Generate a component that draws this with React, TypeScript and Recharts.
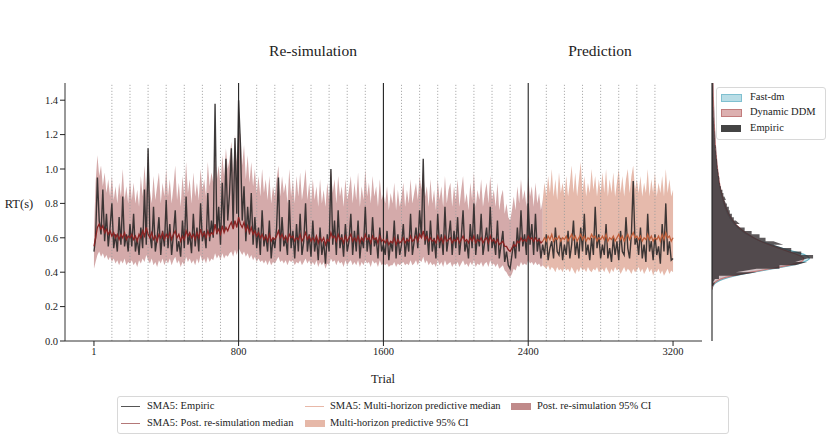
import React from "react";
import { ComposedChart, Area, Line, XAxis, YAxis, ReferenceLine } from "recharts";

const FONT = '"Liberation Serif", "DejaVu Serif", serif';

// =========================
// DATOS: ensayos cada 10 (el primero es el ensayo 1)
// =========================
const TRIAL_STEP = 10;
const PRED_START = 2480;

// SMA5 empírico, ensayos 1, 10, 20 ... 3200
const empiric = [
  0.52,
  0.6, 0.95, 0.7, 0.62, 0.88, 0.58, 0.74, 0.55, 0.66, 0.8, 0.54, 0.62, 0.52, 0.72, 0.56, 0.84, 0.55, 0.62, 0.52, 0.68,
  0.55, 0.74, 0.52, 0.6, 0.5, 0.66, 0.54, 0.88, 0.56, 1.12, 0.62, 0.54, 0.78, 0.52, 0.6, 0.72, 0.5, 0.64, 0.55, 0.82,
  0.54, 0.68, 0.5, 0.62, 0.76, 0.52, 0.58, 0.49, 0.7, 0.54, 0.84, 0.56, 0.62, 0.51, 0.74, 0.55, 0.66, 0.52, 0.8, 0.58,
  0.64, 0.54, 0.86, 0.58, 0.7, 0.6, 1.38, 0.62, 0.78, 0.56, 0.92, 0.64, 1.06, 0.7, 0.86, 1.12, 0.66, 1.18, 0.74, 1.4,
  1.15, 0.7, 0.9, 0.58, 0.78, 0.62, 0.86, 0.56, 0.72, 0.54, 0.66, 0.5, 0.76, 0.55, 0.62, 0.52, 0.7, 0.48, 0.6, 0.54,
  0.66, 0.95, 0.52, 0.72, 0.55, 0.6, 0.5, 0.82, 0.54, 0.64, 0.48, 0.68, 0.52, 0.74, 0.5, 0.58, 0.8, 0.52, 0.62, 0.49,
  0.7, 0.52, 0.6, 0.47, 0.66, 0.5, 0.58, 0.45, 0.62, 0.52, 1.0, 0.56, 0.7, 0.5, 0.76, 0.54, 0.62, 0.49, 0.68, 0.52,
  0.58, 0.74, 0.5, 0.64, 0.52, 0.7, 0.48, 0.6, 0.54, 0.78, 0.52, 0.62, 0.5, 0.72, 0.55, 0.6, 0.48, 0.66, 0.52, 0.56,
  0.5, 0.64, 0.47, 0.58, 0.52, 0.7, 0.48, 0.62, 0.5, 0.56, 0.68, 0.49, 0.6, 0.52, 0.74, 0.5, 0.58, 0.66, 0.54, 0.76,
  0.6, 1.06, 0.56, 0.64, 0.5, 0.7, 0.52, 0.6, 0.48, 0.74, 0.54, 0.62, 0.5, 0.78, 0.52, 0.6, 0.7, 0.5, 0.64, 0.54,
  0.72, 0.5, 0.6, 0.76, 0.52, 0.58, 0.48, 0.68, 0.54, 0.8, 0.5, 0.62, 0.55, 0.74, 0.5, 0.58, 0.66, 0.52, 0.78, 0.54,
  0.6, 0.5, 0.7, 0.48, 0.56, 0.64, 0.46, 0.52, 0.44, 0.42, 0.5, 0.58, 0.48, 0.66, 0.52, 0.76, 0.55, 0.62, 0.5, 0.8,
  0.56, 0.68, 0.5, 0.74, 0.52, 0.6, 0.48, 0.56, 0.5, 0.62, 0.47, 0.54, 0.58, 0.48, 0.66, 0.52, 0.5, 0.6, 0.47, 0.56,
  0.5, 0.64, 0.48, 0.56, 0.7, 0.5, 0.58, 0.48, 0.66, 0.52, 0.74, 0.5, 0.56, 0.47, 0.6, 0.5, 0.78, 0.54, 0.62, 0.48,
  0.56, 0.5, 0.68, 0.48, 0.54, 0.46, 0.6, 0.5, 0.58, 0.47, 0.64, 0.52, 0.5, 0.72, 0.54, 0.48, 0.62, 0.93, 0.56, 0.6,
  0.5, 0.66, 0.48, 0.56, 0.46, 0.74, 0.52, 0.58, 0.47, 0.62, 0.5, 0.55, 0.45, 0.68, 0.52, 0.8, 0.5, 0.58, 0.47, 0.48,
];

// re-simulación posterior, ensayos 1 ... 2480
const simMedian = [
  0.55,
  0.6, 0.66, 0.68, 0.65, 0.67, 0.63, 0.65, 0.62, 0.64, 0.61, 0.63, 0.6, 0.62, 0.59, 0.62, 0.6, 0.63, 0.59, 0.61, 0.6,
  0.62, 0.59, 0.61, 0.58, 0.62, 0.6, 0.64, 0.61, 0.66, 0.62, 0.6, 0.63, 0.59, 0.61, 0.58, 0.62, 0.6, 0.63, 0.59, 0.62,
  0.6, 0.63, 0.59, 0.62, 0.64, 0.6, 0.62, 0.58, 0.61, 0.59, 0.64, 0.61, 0.63, 0.6, 0.62, 0.59, 0.63, 0.6, 0.65, 0.61,
  0.63, 0.6, 0.64, 0.61, 0.63, 0.62, 0.68, 0.63, 0.65, 0.62, 0.67, 0.63, 0.66, 0.64, 0.67, 0.69, 0.65, 0.7, 0.66, 0.72,
  0.68, 0.66, 0.69, 0.64, 0.67, 0.63, 0.66, 0.62, 0.64, 0.61, 0.63, 0.6, 0.62, 0.59, 0.61, 0.58, 0.62, 0.58, 0.6, 0.59,
  0.61, 0.64, 0.6, 0.62, 0.59, 0.61, 0.58, 0.62, 0.6, 0.61, 0.58, 0.6, 0.59, 0.62, 0.58, 0.6, 0.63, 0.59, 0.61, 0.58,
  0.6, 0.58, 0.61, 0.57, 0.6, 0.58, 0.6, 0.56, 0.59, 0.58, 0.63, 0.6, 0.61, 0.58, 0.62, 0.59, 0.6, 0.57, 0.61, 0.58,
  0.6, 0.62, 0.58, 0.6, 0.58, 0.61, 0.57, 0.6, 0.58, 0.62, 0.59, 0.6, 0.57, 0.61, 0.59, 0.6, 0.57, 0.61, 0.58, 0.59,
  0.57, 0.59, 0.56, 0.58, 0.57, 0.6, 0.56, 0.59, 0.57, 0.58, 0.6, 0.57, 0.59, 0.58, 0.61, 0.58, 0.59, 0.61, 0.58, 0.62,
  0.6, 0.64, 0.59, 0.61, 0.58, 0.6, 0.58, 0.59, 0.57, 0.61, 0.58, 0.6, 0.57, 0.61, 0.58, 0.59, 0.6, 0.57, 0.59, 0.58,
  0.6, 0.57, 0.59, 0.61, 0.58, 0.59, 0.57, 0.6, 0.58, 0.61, 0.57, 0.59, 0.58, 0.6, 0.57, 0.59, 0.6, 0.57, 0.61, 0.58,
  0.59, 0.57, 0.59, 0.56, 0.57, 0.58, 0.55, 0.55, 0.53, 0.52, 0.54, 0.56, 0.55, 0.58, 0.57, 0.6, 0.58, 0.59, 0.58, 0.61,
  0.59, 0.6, 0.58, 0.6, 0.58, 0.59, 0.57, 0.58,
];

const simLow = [
  0.42,
  0.46, 0.5, 0.52, 0.49, 0.51, 0.48, 0.5, 0.47, 0.49, 0.46, 0.48, 0.45, 0.47, 0.44, 0.47, 0.45, 0.48, 0.44, 0.46, 0.45,
  0.47, 0.44, 0.46, 0.43, 0.47, 0.45, 0.48, 0.46, 0.5, 0.47, 0.45, 0.48, 0.44, 0.46, 0.43, 0.47, 0.45, 0.48, 0.44, 0.47,
  0.45, 0.48, 0.44, 0.47, 0.49, 0.45, 0.47, 0.43, 0.46, 0.44, 0.49, 0.46, 0.48, 0.45, 0.47, 0.44, 0.48, 0.45, 0.5, 0.46,
  0.48, 0.45, 0.49, 0.46, 0.48, 0.47, 0.51, 0.48, 0.5, 0.47, 0.51, 0.48, 0.5, 0.49, 0.51, 0.52, 0.49, 0.53, 0.5, 0.54,
  0.52, 0.5, 0.52, 0.49, 0.51, 0.48, 0.5, 0.47, 0.49, 0.46, 0.48, 0.46, 0.47, 0.45, 0.47, 0.44, 0.47, 0.44, 0.46, 0.45,
  0.47, 0.49, 0.46, 0.47, 0.45, 0.47, 0.44, 0.47, 0.46, 0.47, 0.44, 0.46, 0.45, 0.47, 0.44, 0.46, 0.48, 0.45, 0.47, 0.44,
  0.46, 0.44, 0.47, 0.43, 0.46, 0.44, 0.46, 0.42, 0.45, 0.44, 0.48, 0.46, 0.47, 0.44, 0.47, 0.45, 0.46, 0.43, 0.47, 0.44,
  0.46, 0.47, 0.44, 0.46, 0.44, 0.47, 0.43, 0.46, 0.44, 0.47, 0.45, 0.46, 0.43, 0.47, 0.45, 0.46, 0.43, 0.47, 0.44, 0.45,
  0.44, 0.45, 0.43, 0.44, 0.44, 0.46, 0.43, 0.45, 0.44, 0.45, 0.46, 0.44, 0.45, 0.44, 0.47, 0.44, 0.45, 0.47, 0.44, 0.47,
  0.46, 0.49, 0.45, 0.47, 0.44, 0.46, 0.44, 0.45, 0.43, 0.47, 0.44, 0.46, 0.43, 0.47, 0.44, 0.45, 0.46, 0.43, 0.45, 0.44,
  0.46, 0.43, 0.45, 0.47, 0.44, 0.45, 0.43, 0.46, 0.44, 0.47, 0.43, 0.45, 0.44, 0.46, 0.43, 0.45, 0.46, 0.43, 0.47, 0.44,
  0.45, 0.43, 0.45, 0.42, 0.43, 0.44, 0.41, 0.4, 0.38, 0.37, 0.39, 0.42, 0.41, 0.44, 0.43, 0.46, 0.44, 0.45, 0.44, 0.47,
  0.45, 0.46, 0.44, 0.46, 0.44, 0.45, 0.43, 0.44,
];

const simHigh = [
  0.62,
  0.92, 1.08, 0.96, 1.02, 0.9, 0.98, 0.86, 0.94, 0.84, 0.96, 0.82, 0.9, 0.8, 0.92, 0.84, 1.0, 0.82, 0.9, 0.8, 0.94,
  0.82, 0.92, 0.8, 0.88, 0.78, 0.96, 0.84, 1.02, 0.86, 1.1, 0.88, 0.8, 0.96, 0.82, 0.9, 0.98, 0.8, 0.92, 0.84, 1.0,
  0.84, 0.94, 0.8, 0.9, 1.02, 0.82, 0.92, 0.78, 0.96, 0.84, 1.04, 0.86, 0.94, 0.8, 0.98, 0.84, 0.92, 0.82, 1.0, 0.88,
  0.94, 0.84, 1.04, 0.9, 0.98, 0.92, 1.1, 0.94, 1.02, 0.9, 1.08, 0.96, 1.12, 1.0, 1.06, 1.16, 0.98, 1.2, 1.04, 1.24,
  1.2, 1.02, 1.14, 0.94, 1.08, 0.92, 1.04, 0.9, 1.0, 0.86, 0.96, 0.84, 1.0, 0.86, 0.94, 0.82, 0.96, 0.8, 0.9, 0.84,
  0.94, 1.02, 0.84, 0.96, 0.86, 0.92, 0.8, 1.0, 0.84, 0.94, 0.8, 0.96, 0.84, 0.98, 0.82, 0.9, 1.0, 0.82, 0.92, 0.8,
  0.94, 0.82, 0.9, 0.78, 0.94, 0.8, 0.88, 0.78, 0.92, 0.82, 1.0, 0.86, 0.94, 0.8, 0.96, 0.84, 0.9, 0.78, 0.94, 0.82,
  0.88, 0.96, 0.8, 0.92, 0.82, 0.98, 0.78, 0.9, 0.82, 1.0, 0.84, 0.92, 0.8, 0.96, 0.84, 0.9, 0.78, 0.94, 0.82, 0.86,
  0.8, 0.9, 0.76, 0.86, 0.8, 0.92, 0.76, 0.88, 0.78, 0.84, 0.92, 0.78, 0.88, 0.8, 0.94, 0.8, 0.86, 0.92, 0.82, 0.96,
  0.88, 1.0, 0.84, 0.9, 0.78, 0.94, 0.8, 0.88, 0.76, 0.94, 0.82, 0.9, 0.78, 0.96, 0.8, 0.88, 0.92, 0.78, 0.9, 0.82,
  0.94, 0.78, 0.88, 0.96, 0.8, 0.86, 0.76, 0.92, 0.82, 0.98, 0.78, 0.88, 0.82, 0.94, 0.78, 0.86, 0.92, 0.8, 0.96, 0.82,
  0.88, 0.78, 0.92, 0.76, 0.84, 0.88, 0.74, 0.8, 0.72, 0.7, 0.76, 0.84, 0.76, 0.9, 0.8, 0.94, 0.82, 0.88, 0.78, 0.96,
  0.84, 0.9, 0.78, 0.92, 0.8, 0.86, 0.76, 0.82,
];

// predicción multi-horizonte, ensayos 2480 ... 3200
const predMedian = [
  0.58,
  0.6, 0.58, 0.61, 0.59, 0.62, 0.58, 0.6, 0.59, 0.61, 0.58, 0.6, 0.59,
  0.61, 0.58, 0.6, 0.62, 0.59, 0.61, 0.58, 0.6, 0.62, 0.59, 0.61, 0.58, 0.6, 0.59, 0.62, 0.6, 0.61, 0.58, 0.6, 0.59,
  0.61, 0.59, 0.62, 0.58, 0.6, 0.59, 0.61, 0.58, 0.6, 0.62, 0.59, 0.61, 0.58, 0.6, 0.62, 0.59, 0.61, 0.63, 0.6, 0.61,
  0.59, 0.61, 0.58, 0.6, 0.59, 0.62, 0.59, 0.61, 0.58, 0.6, 0.59, 0.61, 0.58, 0.62, 0.59, 0.63, 0.6, 0.61, 0.58, 0.6,
];

const predLow = [
  0.44,
  0.43, 0.42, 0.44, 0.41, 0.43, 0.42, 0.4, 0.43, 0.41, 0.42, 0.4, 0.43,
  0.41, 0.42, 0.4, 0.43, 0.41, 0.39, 0.42, 0.4, 0.43, 0.41, 0.42, 0.4, 0.43, 0.41, 0.4, 0.42, 0.41, 0.43, 0.4, 0.41,
  0.42, 0.4, 0.43, 0.41, 0.39, 0.42, 0.4, 0.43, 0.41, 0.42, 0.39, 0.41, 0.43, 0.4, 0.42, 0.41, 0.39, 0.42, 0.4, 0.41,
  0.43, 0.4, 0.42, 0.39, 0.41, 0.43, 0.4, 0.42, 0.38, 0.41, 0.4, 0.42, 0.39, 0.41, 0.38, 0.4, 0.42, 0.39, 0.41, 0.4,
];

const predHigh = [
  0.82,
  0.92, 0.84, 0.96, 0.86, 1.0, 0.84, 0.94, 0.82, 0.98, 0.86, 0.92, 0.84,
  0.96, 0.84, 0.92, 1.02, 0.86, 0.98, 0.84, 0.94, 1.04, 0.86, 0.96, 0.84, 0.92, 0.86, 1.0, 0.88, 0.96, 0.84, 0.94, 0.86,
  0.98, 0.86, 1.0, 0.84, 0.94, 0.86, 0.98, 0.84, 0.92, 1.0, 0.86, 0.96, 0.84, 0.94, 1.0, 0.86, 0.96, 1.02, 0.88, 0.94,
  0.86, 0.96, 0.84, 0.92, 0.86, 1.0, 0.84, 0.94, 0.86, 0.98, 0.84, 0.92, 0.86, 0.96, 0.84, 1.0, 0.86, 0.94, 0.84, 0.88,
];

// histograma empírico (centros de bin, ancho 0.02) y densidades
const BIN_WIDTH = 0.02;
const histCenters = [
  0.33, 0.35, 0.37, 0.39, 0.41, 0.43, 0.45, 0.47, 0.49, 0.51, 0.53, 0.55, 0.57, 0.59, 0.61, 0.63, 0.65, 0.67, 0.69, 0.71,
  0.73, 0.75, 0.77, 0.79, 0.81, 0.83, 0.85, 0.87, 0.89, 0.91, 0.93, 0.95, 0.97, 0.99, 1.01, 1.03, 1.05, 1.07, 1.09, 1.11,
  1.13, 1.15, 1.17, 1.19, 1.21, 1.23, 1.25, 1.27, 1.29, 1.31, 1.33, 1.35, 1.37, 1.39, 1.41, 1.43, 1.45, 1.47, 1.49,
];
const empDensity = [
  0.07, 0.21, 0.5, 1.71, 3.21, 4.85, 5.99, 6.84, 7.27, 6.42, 5.7, 5.13, 4.42, 3.85, 3.42, 2.85, 2.35, 2.0, 1.71, 1.57,
  1.43, 1.28, 1.21, 1.07, 1.0, 0.89, 0.82, 0.75, 0.64, 0.57, 0.53, 0.5, 0.46, 0.43, 0.39, 0.36, 0.36, 0.32, 0.29, 0.29,
  0.25, 0.21, 0.21, 0.2, 0.19, 0.17, 0.16, 0.14, 0.13, 0.11, 0.11, 0.1, 0.09, 0.09, 0.08, 0.07, 0.06, 0.06, 0.05,
];
const densityRt = [
  0.3, 0.32, 0.34, 0.36, 0.38, 0.4, 0.42, 0.44, 0.46, 0.48, 0.5, 0.52, 0.54, 0.56, 0.58, 0.6, 0.62, 0.64, 0.66, 0.68,
  0.7, 0.74, 0.78, 0.82, 0.86, 0.9, 0.95, 1.0, 1.1, 1.2, 1.3, 1.4, 1.5,
];
const fastDm = [
  0.0, 0.08, 0.3, 0.8, 1.7, 3.0, 4.4, 5.7, 6.6, 7.0, 6.7, 5.9, 5.0, 4.2, 3.5, 2.95, 2.5, 2.15, 1.85, 1.6,
  1.4, 1.12, 0.92, 0.77, 0.65, 0.55, 0.45, 0.38, 0.27, 0.19, 0.13, 0.09, 0.06,
];
const dynamicDdm = [
  0.0, 0.05, 0.2, 0.6, 1.5, 2.8, 4.2, 5.5, 6.4, 6.6, 6.2, 5.5, 4.8, 4.1, 3.5, 3.0, 2.6, 2.25, 1.95, 1.7,
  1.5, 1.2, 0.98, 0.82, 0.69, 0.58, 0.48, 0.4, 0.28, 0.2, 0.14, 0.1, 0.07,
];

const xTicks = [1, 800, 1600, 2400, 3200];
const yTicks = [0, 0.2, 0.4, 0.6, 0.8, 1.0, 1.2, 1.4];
const blockLines = [800, 1600, 2400];
const sessionLines = [
  100, 200, 300, 400, 500, 600, 700, 900, 1000, 1100, 1200, 1300, 1400, 1500,
  1700, 1800, 1900, 2000, 2100, 2200, 2300, 2500, 2600, 2700, 2800, 2900, 3000, 3100,
];

// =========================
// TABLAS
// =========================
const mainData = empiric.map((e, i) => {
  const trial = i === 0 ? 1 : i * TRIAL_STEP;
  const p = (trial - PRED_START) / TRIAL_STEP;
  const inSim = i < simMedian.length;
  const inPred = p >= 0 && p < predMedian.length;
  return {
    trial,
    empiric: e,
    simMedian: inSim ? simMedian[i] : undefined,
    simBand: inSim ? [simLow[i], simHigh[i]] : undefined,
    predMedian: inPred ? predMedian[p] : undefined,
    predBand: inPred ? [predLow[p], predHigh[p]] : undefined,
  };
});

const histRows = histCenters.flatMap((c, i) => [
  { rt: c - BIN_WIDTH / 2, emp: empDensity[i] },
  { rt: c + BIN_WIDTH / 2, emp: empDensity[i] },
]);
const densRows = densityRt.map((rt, i) => ({ rt, fast: fastDm[i], ddm: dynamicDdm[i] }));
const sideData = [...histRows, ...densRows].sort((a, b) => a.rt - b.rt);

const tickStyle = { fontSize: 10.5, fill: "#222", fontFamily: FONT };

const legendText: React.CSSProperties = {
  position: "absolute",
  fontSize: 10.5,
  fontFamily: FONT,
  color: "#222",
  whiteSpace: "nowrap",
  lineHeight: "12px",
};

function LineKey({ x, y, color }: { x: number; y: number; color: string }) {
  return (
    <div style={{ position: "absolute", left: x, top: y, width: 19, height: 0, borderTop: `1.3px solid ${color}` }} />
  );
}

function PatchKey({ x, y, color, border }: { x: number; y: number; color: string; border?: string }) {
  return (
    <div
      style={{
        position: "absolute",
        left: x,
        top: y,
        width: border ? 19 : 20,
        height: border ? 6 : 7,
        background: color,
        border: border ? `1px solid ${border}` : "none",
      }}
    />
  );
}

export default function App() {
  return (
    <div style={{ position: "relative", width: 830, height: 437, background: "#fff", fontFamily: FONT }}>
      <style>{`body{margin:0;font-family:${FONT}} svg text{font-family:${FONT}}`}</style>

      {/* PANEL PRINCIPAL */}
      <div style={{ position: "absolute", left: 0, top: 0 }}>
        <ComposedChart width={830} height={437} data={mainData} margin={{ top: 83, right: 128, bottom: 0, left: 0 }}>
          <XAxis
            type="number"
            dataKey="trial"
            domain={[-159, 3360]}
            allowDataOverflow
            ticks={xTicks}
            height={96}
            tick={tickStyle}
            tickSize={5}
            tickLine={{ stroke: "#222" }}
            axisLine={{ stroke: "#333" }}
          />
          <YAxis
            type="number"
            domain={[0, 1.5]}
            allowDataOverflow
            ticks={yTicks}
            width={65}
            tick={tickStyle}
            tickSize={5}
            tickLine={{ stroke: "#222" }}
            axisLine={{ stroke: "#333" }}
            tickFormatter={(v: number) => v.toFixed(1)}
          />
          <Area
            dataKey="simBand"
            type="linear"
            stroke="none"
            fill="#b87272"
            fillOpacity={0.6}
            isAnimationActive={false}
            activeDot={false}
          />
          <Area
            dataKey="predBand"
            type="linear"
            stroke="none"
            fill="#dca08c"
            fillOpacity={0.72}
            isAnimationActive={false}
            activeDot={false}
          />
          {sessionLines.map((t) => (
            <ReferenceLine key={t} x={t} stroke="#9a9a9a" strokeWidth={0.8} strokeDasharray="1.2 1.8" />
          ))}
          {blockLines.map((t) => (
            <ReferenceLine key={t} x={t} stroke="#222" strokeWidth={1.1} />
          ))}
          <Line
            dataKey="empiric"
            type="linear"
            stroke="#2e2a2a"
            strokeOpacity={0.92}
            strokeWidth={1.4}
            dot={false}
            activeDot={false}
            isAnimationActive={false}
          />
          <Line
            dataKey="simMedian"
            type="linear"
            stroke="#8b2424"
            strokeWidth={1.3}
            dot={false}
            activeDot={false}
            isAnimationActive={false}
          />
          <Line
            dataKey="predMedian"
            type="linear"
            stroke="#c0603c"
            strokeWidth={1.3}
            dot={false}
            activeDot={false}
            isAnimationActive={false}
          />
        </ComposedChart>
      </div>

      {/* PANEL LATERAL: DISTRIBUCIÓN */}
      <div style={{ position: "absolute", left: 0, top: 0 }}>
        <ComposedChart
          width={830}
          height={437}
          layout="vertical"
          data={sideData}
          margin={{ top: 83, right: 4, bottom: 96, left: 712 }}
        >
          <XAxis type="number" domain={[0, 8.2]} allowDataOverflow hide />
          <YAxis type="number" dataKey="rt" domain={[0, 1.5]} allowDataOverflow reversed hide />
          <Area
            dataKey="fast"
            type="monotone"
            connectNulls
            stroke="#69b4c4"
            strokeWidth={1.2}
            fill="#a6d6e2"
            fillOpacity={0.6}
            isAnimationActive={false}
            activeDot={false}
          />
          <Area
            dataKey="ddm"
            type="monotone"
            connectNulls
            stroke="#c47a7a"
            strokeWidth={1.2}
            fill="#d8a4a4"
            fillOpacity={0.55}
            isAnimationActive={false}
            activeDot={false}
          />
          <Area
            dataKey="emp"
            type="linear"
            connectNulls
            stroke="none"
            fill="#2a2528"
            fillOpacity={0.76}
            isAnimationActive={false}
            activeDot={false}
          />
          <ReferenceLine x={0} stroke="#222" strokeWidth={1.1} />
        </ComposedChart>
      </div>

      {/* TITULOS Y ETIQUETAS */}
      <div style={{ position: "absolute", left: 213, width: 200, top: 42, textAlign: "center", fontSize: 15.5, color: "#222" }}>
        Re-simulation
      </div>
      <div style={{ position: "absolute", left: 500, width: 200, top: 42, textAlign: "center", fontSize: 15.5, color: "#222" }}>
        Prediction
      </div>
      <div style={{ position: "absolute", left: 0, width: 38, top: 197, textAlign: "center", fontSize: 12.5, color: "#222" }}>
        RT(s)
      </div>
      <div style={{ position: "absolute", left: 333, width: 100, top: 372, textAlign: "center", fontSize: 12.5, color: "#222" }}>
        Trial
      </div>

      {/* LEYENDA LATERAL */}
      <div
        style={{
          position: "absolute",
          left: 716,
          top: 87,
          width: 108,
          height: 51,
          border: "1px solid #d8d8d8",
          borderRadius: 3,
          background: "rgba(255,255,255,0.85)",
        }}
      >
        <PatchKey x={4} y={6} color="#b9dde6" border="#7fc0d0" />
        <div style={{ ...legendText, left: 33, top: 3 }}>Fast-dm</div>
        <PatchKey x={4} y={21} color="#dcb0b0" border="#c27c7c" />
        <div style={{ ...legendText, left: 33, top: 18 }}>Dynamic DDM</div>
        <PatchKey x={4} y={37} color="#444" />
        <div style={{ ...legendText, left: 33, top: 34 }}>Empiric</div>
      </div>

      {/* LEYENDA INFERIOR */}
      <div
        style={{
          position: "absolute",
          left: 117,
          top: 396,
          width: 610,
          height: 36,
          border: "1px solid #d8d8d8",
          borderRadius: 3,
        }}
      >
        <LineKey x={3} y={9} color="#555" />
        <div style={{ ...legendText, left: 29, top: 3 }}>SMA5: Empiric</div>
        <LineKey x={3} y={26} color="#b47878" />
        <div style={{ ...legendText, left: 29, top: 20 }}>SMA5: Post. re-simulation median</div>
        <LineKey x={187} y={9} color="#e8b8a8" />
        <div style={{ ...legendText, left: 212, top: 3 }}>SMA5: Multi-horizon predictive median</div>
        <PatchKey x={187} y={23} color="#e6b8a8" />
        <div style={{ ...legendText, left: 212, top: 20 }}>Multi-horizon predictive 95% CI</div>
        <PatchKey x={393} y={6} color="#c08a8a" />
        <div style={{ ...legendText, left: 419, top: 3 }}>Post. re-simulation 95% CI</div>
      </div>
    </div>
  );
}
